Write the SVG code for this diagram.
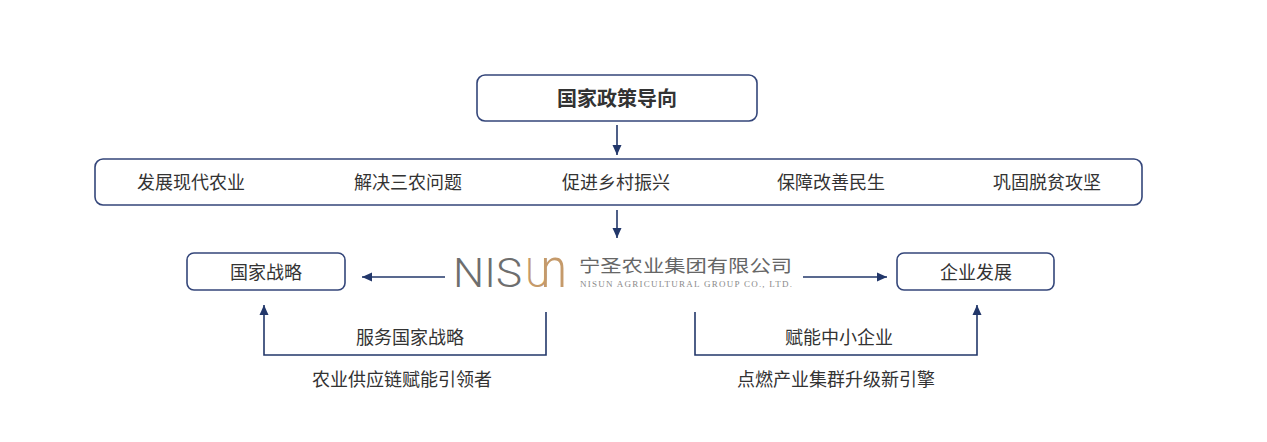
<svg xmlns="http://www.w3.org/2000/svg" width="1267" height="442" viewBox="0 0 1267 442">
<style>
.box{fill:#fff;stroke:#34467a;stroke-width:1.6}
.t{font-family:"Noto Sans CJK SC","Noto Sans",sans-serif;fill:#333;font-size:18px;text-anchor:middle}
.tb{font-weight:bold;font-size:20px}
.ln{fill:none;stroke:#22376a;stroke-width:1.6}
.logo{font-family:Roboto,"Liberation Sans",sans-serif;font-weight:300;font-size:40px}
</style>
<defs>
<marker id="ah" viewBox="0 0 10 10" refX="10" refY="5" markerWidth="10" markerHeight="10" markerUnits="userSpaceOnUse" orient="auto">
<path d="M0,0.5 L10,5 L0,9.5 Z" fill="#22376a"/>
</marker>
</defs>
<rect width="1267" height="442" fill="#fff"/>

<g id="policy">
<rect class="box" x="477" y="75" width="280" height="46" rx="8"/>
<text class="t tb" x="617" y="106">国家政策导向</text>
</g>

<g id="goals">
<rect class="box" x="95" y="159" width="1047" height="46" rx="8"/>
<text class="t" x="191" y="189">发展现代农业</text>
<text class="t" x="408" y="189">解决三农问题</text>
<text class="t" x="616" y="189">促进乡村振兴</text>
<text class="t" x="831" y="189">保障改善民生</text>
<text class="t" x="1047" y="189">巩固脱贫攻坚</text>
</g>

<g id="nisun">
<text class="logo" x="453" y="287" fill="#6e6e6e" textLength="69" lengthAdjust="spacingAndGlyphs">NIS</text>
<text class="logo" x="0" y="0" fill="#c59a6a" transform="translate(525.5,287) scale(1.22,1.37)"><tspan font-size="29.8" letter-spacing="-7.5">U</tspan><tspan font-size="40">n</tspan></text>
<text x="579" y="272" font-family="'Noto Sans CJK SC',sans-serif" font-size="17.5" fill="#666" textLength="213" lengthAdjust="spacingAndGlyphs">宁圣农业集团有限公司</text>
<text x="580" y="287" font-family="'Liberation Serif',serif" font-size="9" fill="#8a8a8a" textLength="212" lengthAdjust="spacing">NISUN AGRICULTURAL GROUP CO., LTD.</text>
</g>

<g id="strategy">
<rect class="box" x="187" y="253" width="158" height="37" rx="7"/>
<text class="t" x="266" y="279">国家战略</text>
</g>

<g id="enterprise">
<rect class="box" x="897" y="253" width="157" height="37" rx="7"/>
<text class="t" x="976" y="279">企业发展</text>
</g>

<g id="connectors">
<line class="ln" x1="617" y1="125" x2="617" y2="155" marker-end="url(#ah)"/>
<line class="ln" x1="617" y1="210" x2="617" y2="238" marker-end="url(#ah)"/>
<line class="ln" x1="445" y1="277" x2="362" y2="277" marker-end="url(#ah)"/>
<line class="ln" x1="803" y1="277" x2="887" y2="277" marker-end="url(#ah)"/>
<polyline class="ln" points="546,312 546,355 264,355 264,305" marker-end="url(#ah)"/>
<polyline class="ln" points="695,312 695,355 977,355 977,305" marker-end="url(#ah)"/>
<text class="t" x="410" y="344">服务国家战略</text>
<text class="t" x="402" y="386">农业供应链赋能引领者</text>
<text class="t" x="839" y="344">赋能中小企业</text>
<text class="t" x="836" y="386">点燃产业集群升级新引擎</text>
</g>
</svg>
